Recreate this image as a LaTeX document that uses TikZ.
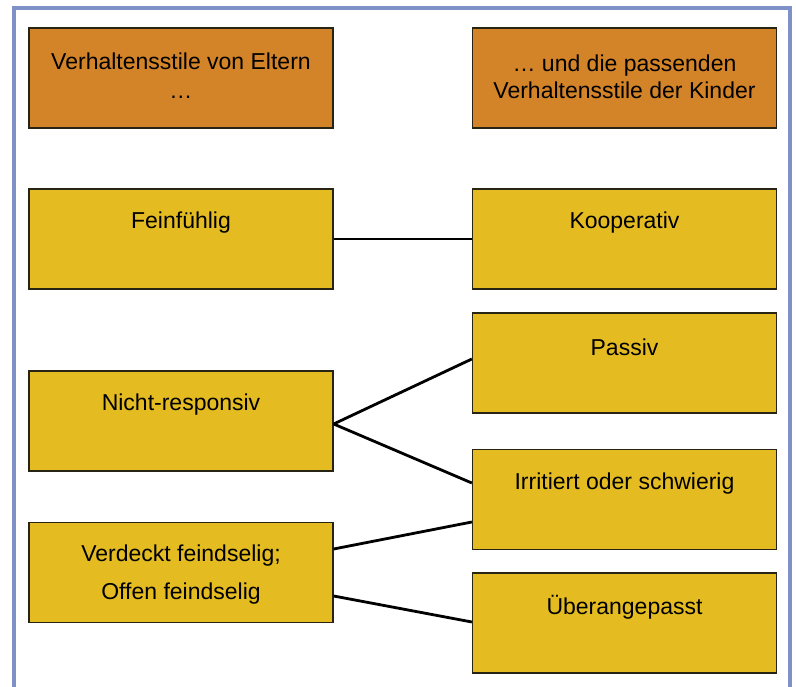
\documentclass[tikz,border=0pt]{standalone}
\usepackage{fontspec}
\setmainfont{Liberation Sans}
\definecolor{frameblue}{RGB}{128,144,200}
\definecolor{headorange}{RGB}{212,132,40}
\definecolor{boxyellow}{RGB}{228,188,34}
\definecolor{boxedge}{RGB}{40,36,20}
\begin{document}
\begin{tikzpicture}[x=1pt,y=-1pt,
  every node/.style={font=\fontsize{23}{28}\selectfont},
  boxbase/.style={draw=boxedge, line width=1.3pt, inner sep=0pt,
    minimum width=304pt, minimum height=100pt},
  headbox/.style={boxbase, fill=headorange},
  itembox/.style={boxbase, fill=boxyellow},
  lbl/.style={inner sep=0pt, align=center},
  conn/.style={line width=2.8pt, black}]
\useasboundingbox (0,0) rectangle (796,687);
\draw[frameblue, line width=4pt] (13.5,8.5) -- (789.5,8.5);
\draw[frameblue, line width=4pt] (13.5,6.5) -- (13.5,690);
\draw[frameblue, line width=4pt] (789.5,6.5) -- (789.5,690);

% header boxes
\node[headbox] (hl) at (181,78) {};
\node[headbox] (hr) at (624.5,78) {};
\node[lbl, font=\fontsize{23}{29}\selectfont] (hlt) at (181,76) {Verhaltensstile von Eltern\\…};
\node[lbl, font=\fontsize{23}{27}\selectfont] (hrt) at (624.5,77) {… und die passenden\\Verhaltensstile der Kinder};

% left boxes
\node[itembox] (fein) at (181,239) {};
\node[itembox] (nicht) at (181,421) {};
\node[itembox] (verd) at (181,572.5) {};
% right boxes
\node[itembox] (koop) at (624.5,239) {};
\node[itembox] (pass) at (624.5,363) {};
\node[itembox] (irr) at (624.5,499.5) {};
\node[itembox] (ueber) at (624.5,623) {};

% labels
\node[lbl] (feint) at (181,223) {Feinfühlig};
\node[lbl] (nichtt) at (181,405) {Nicht-responsiv};
\node[lbl, font=\fontsize{23}{38}\selectfont] (verdt) at (181,575) {Verdeckt feindselig;\\Offen feindselig};
\node[lbl] (koopt) at (624.5,223) {Kooperativ};
\node[lbl] (passt) at (624.5,347) {Passiv};
\node[lbl] (irrt) at (624.5,484) {Irritiert oder schwierig};
\node[lbl] (uebert) at (624.5,607) {Überangepasst};

% connectors
\draw[conn] (fein.east) -- (koop.west);
\draw[conn] ([yshift=-3pt]nicht.east) -- ([yshift=4pt]pass.west);
\draw[conn] ([yshift=-3pt]nicht.east) -- ([yshift=16.5pt]irr.west);
\draw[conn] ([yshift=23.5pt]verd.east) -- ([yshift=-22.5pt]irr.west);
\draw[conn] ([yshift=-23.5pt]verd.east) -- ([yshift=1pt]ueber.west);
\end{tikzpicture}
\end{document}
